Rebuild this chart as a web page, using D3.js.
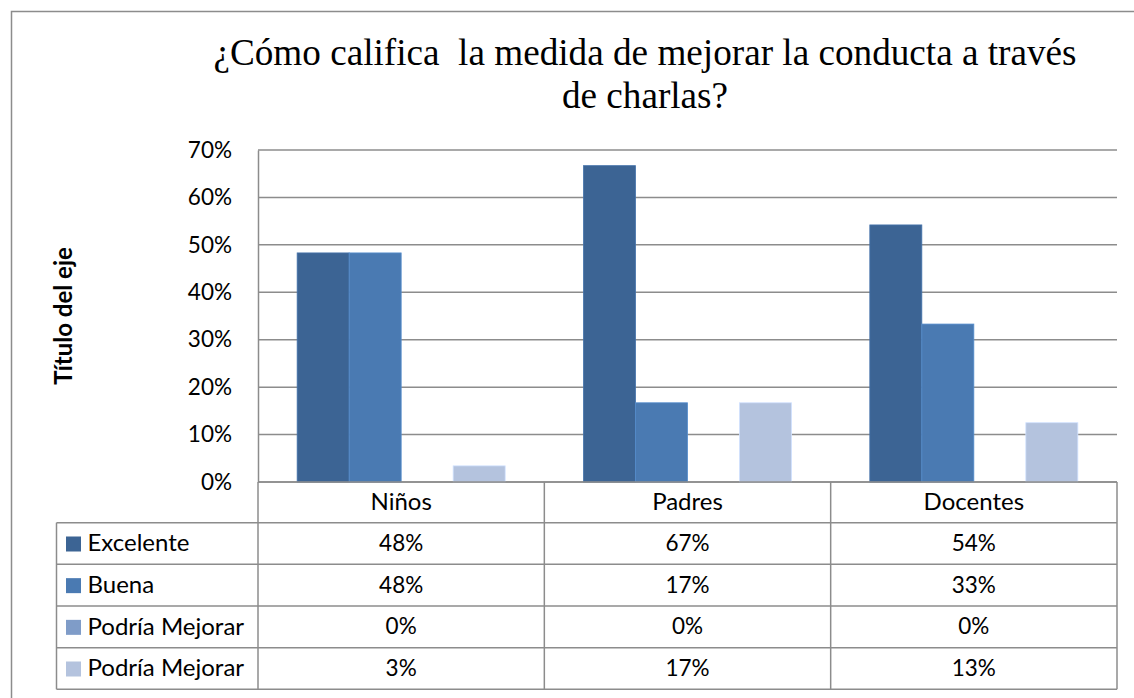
<!DOCTYPE html>
<html>
<head>
<meta charset="utf-8">
<script src="https://cdn.jsdelivr.net/npm/d3@7"></script>
<style>
  html, body { margin: 0; padding: 0; background: #fff; }
  svg { display: block; }
  text { white-space: pre; }
</style>
</head>
<body>
<svg id="chart" width="1134" height="698"></svg>
<script>
const titleLines = ["¿Cómo califica  la medida de mejorar la conducta a través", "de charlas?"];
const yAxisTitle = "Título del eje";
const categories = ["Niños", "Padres", "Docentes"];
const seriesNames = ["Excelente", "Buena", "Podría Mejorar", "Podría Mejorar"];
const excelente = [0.483, 0.667, 0.542];
const buena = [0.483, 0.167, 0.333];
const podria1 = [0, 0, 0];
const podria2 = [0.034, 0.167, 0.125];
const tableLabels = [
  ["48%", "67%", "54%"],
  ["48%", "17%", "33%"],
  ["0%", "0%", "0%"],
  ["3%", "17%", "13%"]
];
const yTicks = [0, 0.1, 0.2, 0.3, 0.4, 0.5, 0.6, 0.7];
const colors = ["#3c6494", "#4a7ab2", "#7f9cc8", "#b4c3de"];

const seriesValues = [excelente, buena, podria1, podria2];

const svg = d3.select("#chart");
const font = "Lato, 'Open Sans', sans-serif";
const gridColor = "#8c8c8c";
const numSize = 22.5, wordSize = 24;

// outer border
svg.append("rect").attr("x", 11.5).attr("y", 11.5).attr("width", 1140).attr("height", 700)
  .attr("fill", "none").attr("stroke", "#8c8c8c").attr("stroke-width", 1.5);

const x0 = 258, x1 = 1117, yTop = 150, yBase = 482;
const y = d3.scaleLinear().domain([0, 0.7]).range([yBase, yTop]);
const xCat = d3.scaleBand().domain(categories).range([x0, x1]).padding(0);
const xSer = d3.scaleBand().domain(d3.range(seriesNames.length)).range([0, xCat.bandwidth()])
  .paddingInner(0).paddingOuter(0.753);

// title
const title = svg.append("text").attr("font-family", "'Liberation Serif', 'Times New Roman', serif")
  .attr("font-size", 37.2).attr("fill", "#000").attr("text-anchor", "middle");
titleLines.forEach((t, i) => {
  title.append("tspan").attr("x", 645).attr("y", 65 + i * 43).text(t);
});

// gridlines
svg.append("g").selectAll("line").data(yTicks).join("line")
  .attr("x1", x0).attr("x2", x1).attr("y1", d => y(d)).attr("y2", d => y(d))
  .attr("stroke", gridColor).attr("stroke-width", 1.5);

// y axis with d3
const yAxis = d3.axisLeft(y).tickValues(yTicks).tickFormat(d3.format(".0%")).tickSize(0).tickPadding(26);
const gy = svg.append("g").attr("transform", `translate(${x0},0)`).call(yAxis);
gy.select(".domain").attr("stroke", gridColor).attr("stroke-width", 1.5);
gy.selectAll("text").attr("font-family", font).attr("font-size", numSize).attr("fill", "#000");

// axis title
svg.append("text").attr("transform", "translate(72,316) rotate(-90)")
  .attr("text-anchor", "middle").attr("font-family", font).attr("font-weight", "bold")
  .attr("font-size", 24).attr("fill", "#000").text(yAxisTitle);

// bars
const gBars = svg.append("g");
seriesValues.forEach((vals, si) => {
  gBars.append("g").selectAll("rect").data(vals).join("rect")
    .attr("x", (d, i) => xCat(categories[i]) + xSer(si))
    .attr("width", xSer.bandwidth())
    .attr("y", d => y(d))
    .attr("height", d => yBase - y(d))
    .attr("fill", colors[si])
    .attr("stroke", d3.color(colors[si]).brighter(0.4))
    .attr("stroke-width", d => d > 0 ? 0.8 : 0);
});

// data table
const rowTops = [482, 522.7, 564.3, 606, 647.7, 689.3];
const tableLeft = 56.5;
const tg = svg.append("g");
const colEdges = [x0].concat(categories.map(c => xCat(c) + xCat.bandwidth()));
tg.selectAll("line.h").data(rowTops).join("line").attr("class", "h")
  .attr("x1", (d, i) => i === 0 ? x0 : tableLeft).attr("x2", x1)
  .attr("y1", d => d).attr("y2", d => d)
  .attr("stroke", gridColor).attr("stroke-width", 1.5);
tg.selectAll("line.v").data(colEdges).join("line").attr("class", "v")
  .attr("x1", d => d).attr("x2", d => d).attr("y1", rowTops[0]).attr("y2", rowTops[5])
  .attr("stroke", gridColor).attr("stroke-width", 1.5);
tg.append("line").attr("x1", tableLeft).attr("x2", tableLeft).attr("y1", rowTops[1]).attr("y2", rowTops[5])
  .attr("stroke", gridColor).attr("stroke-width", 1.5);

// category header labels
tg.selectAll("text.cat").data(categories).join("text").attr("class", "cat")
  .attr("x", d => xCat(d) + xCat.bandwidth() / 2)
  .attr("y", (rowTops[0] + rowTops[1]) / 2).attr("dy", "0.33em")
  .attr("text-anchor", "middle").attr("font-family", font).attr("font-size", wordSize).text(d => d);

// rows
seriesNames.forEach((name, si) => {
  const cy = (rowTops[si + 1] + rowTops[si + 2]) / 2;
  tg.append("rect").attr("x", 66).attr("y", cy - 7).attr("width", 15).attr("height", 15).attr("fill", colors[si]);
  tg.append("text").attr("x", 87.5).attr("y", cy).attr("dy", "0.33em")
    .attr("font-family", font).attr("font-size", wordSize).text(name);
  tg.append("g").selectAll("text").data(tableLabels[si]).join("text")
    .attr("x", (d, i) => xCat(categories[i]) + xCat.bandwidth() / 2)
    .attr("y", cy).attr("dy", "0.33em").attr("text-anchor", "middle")
    .attr("font-family", font).attr("font-size", numSize).text(d => d);
});
</script>
</body>
</html>
